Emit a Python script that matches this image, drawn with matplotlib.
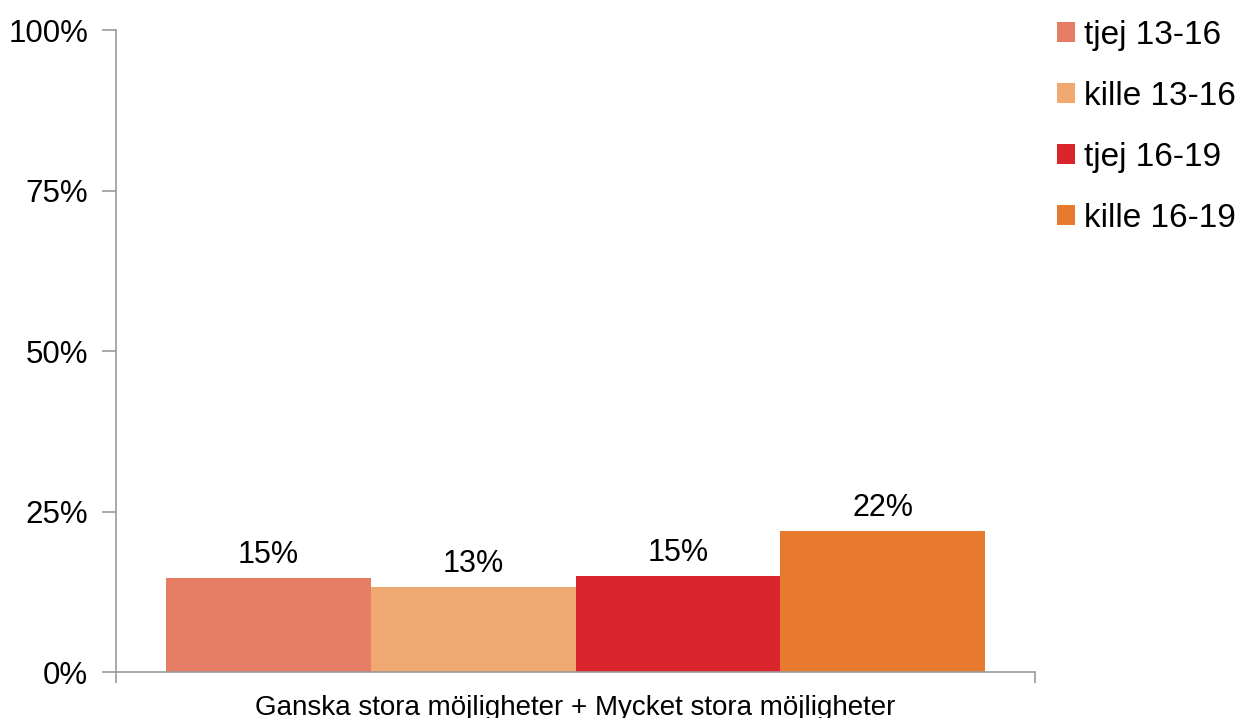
import matplotlib.pyplot as plt
from matplotlib.patches import Patch

plt.rcParams['font.family'] = ['Liberation Sans', 'DejaVu Sans']

# Data
grupper = ['tjej 13-16', 'kille 13-16', 'tjej 16-19', 'kille 16-19']
andel = [14.7, 13.3, 15.0, 22.0]
etiketter = ['15%', '13%', '15%', '22%']
farger = ['#E77D65', '#F1A972', '#D9242B', '#E77A2E']
kategori = 'Ganska stora möjligheter + Mycket stora möjligheter'

fig = plt.figure(figsize=(12.53, 7.18), dpi=100)
ax = fig.add_axes([0.0926, 0.064, 0.7334, 0.894])

x = list(range(len(grupper)))
bars = ax.bar(x, andel, width=1.0, color=farger)

# Värdeetiketter ovanför staplarna
for b, txt in zip(bars, etiketter):
    ax.text(b.get_x() + b.get_width() / 2, b.get_height() + 1.2, txt,
            ha='center', va='bottom', fontsize=22)

ax.set_xlim(-0.745, 3.745)
ax.set_ylim(0, 100)
ax.set_yticks([0, 25, 50, 75, 100])
ax.set_yticklabels(['0%', '25%', '50%', '75%', '100%'], fontsize=22.5)
ax.set_xticks([-0.745, 3.745])
ax.set_xticklabels(['', ''])

for s in ['top', 'right']:
    ax.spines[s].set_visible(False)
for s in ['left', 'bottom']:
    ax.spines[s].set_color('#9a9a9a')
    ax.spines[s].set_linewidth(1.2)
ax.tick_params(axis='y', direction='out', length=10, width=1.2, color='#9a9a9a', pad=10)
ax.tick_params(axis='x', direction='out', length=8, width=1.2, color='#9a9a9a')

ax.text(0.5, -0.035, kategori, transform=ax.transAxes, ha='center', va='top', fontsize=20)

# Förklaring till höger
handtag = [Patch(facecolor=c, label=g) for c, g in zip(farger, grupper)]
fig.legend(handles=handtag, loc='upper left', bbox_to_anchor=(0.833, 0.991),
           frameon=False, fontsize=24, handlelength=0.54, handleheight=0.54,
           handletextpad=0.27, labelspacing=0.9, borderaxespad=0)

fig.savefig('out.png', dpi=100)
